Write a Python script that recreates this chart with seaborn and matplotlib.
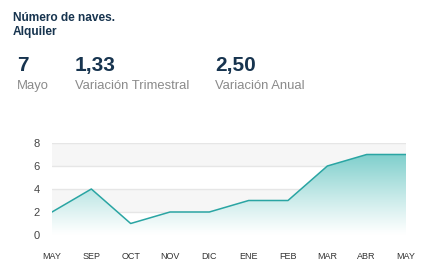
import numpy as np
import pandas as pd
import matplotlib
matplotlib.use("Agg")
import matplotlib.pyplot as plt
import seaborn as sns
from matplotlib.colors import LinearSegmentedColormap

months = ["MAY", "SEP", "OCT", "NOV", "DIC", "ENE", "FEB", "MAR", "ABR", "MAY"]
values = [2, 4, 1, 2, 2, 3, 3, 6, 7, 7]
yticks = [0, 2, 4, 6, 8]
kpi_values = ["7", "1,33", "2,50"]
kpi_labels = ["Mayo", "Variación Trimestral", "Variación Anual"]
title_lines = ["Número de naves.", "Alquiler"]

sns.set_style("white")
plt.rcParams['font.family'] = ['Liberation Sans', 'DejaVu Sans']

W, H = 430, 278
fig = plt.figure(figsize=(W / 100, H / 100), dpi=100)
ax = fig.add_axes([52 / W, 1 - 235 / H, (406 - 52) / W, (235 - 143) / H])

df = pd.DataFrame({"x": np.arange(len(values)), "y": values})

# alternating background bands
for i, (lo, hi) in enumerate(zip(yticks[:-1], yticks[1:])):
    if i % 2 == 1:
        ax.axhspan(lo, hi, color="#f6f6f6", zorder=0, lw=0)
for t in yticks:
    ax.axhline(t, color="#e6e6e6", lw=1, zorder=1)

# gradient fill
cmap = LinearSegmentedColormap.from_list("g", ["#ffffff", "#7fcfcc"])
ymax = max(values)
grad = np.linspace(0, 1, 256).reshape(-1, 1) ** 1.1
im = ax.imshow(grad, extent=[0, len(values) - 1, 0, ymax], origin="lower",
               aspect="auto", cmap=cmap, zorder=2, alpha=1)
poly = ax.fill_between(df["x"], df["y"], 0, color="none", lw=0)
im.set_clip_path(poly.get_paths()[0], transform=ax.transData)

sns.lineplot(data=df, x="x", y="y", ax=ax, color="#2aa5a3", lw=1.1, zorder=3)

ax.set_xlim(0, len(values) - 1)
ax.set_ylim(0, 8)
ax.set_xticks(df["x"])
ax.set_xticklabels(months)
ax.set_yticks(yticks)
ax.set_xlabel("")
ax.set_ylabel("")
for s in ax.spines.values():
    s.set_visible(False)
ax.tick_params(axis="x", length=5, color="#cccccc", width=1, pad=7,
               labelsize=6.5, labelcolor="#333333")
ax.tick_params(axis="y", length=0, pad=9, labelsize=8, labelcolor="#444444")
for lab in ax.get_xticklabels():
    lab.set_fontstretch("condensed")

navy = "#17344f"
fig.text(13 / W, 1 - 12 / H, title_lines[0], fontsize=8.6, fontweight="bold",
         color=navy, va="top", ha="left")
fig.text(13 / W, 1 - 26 / H, title_lines[1], fontsize=8.6, fontweight="bold",
         color=navy, va="top", ha="left")
xs = [17, 75, 215]
for x, v, l in zip(xs, kpi_values, kpi_labels):
    fig.text(x / W, 1 - 56 / H, v, fontsize=15, fontweight="bold",
             color=navy, va="top", ha="left")
    fig.text(x / W, 1 - 80 / H, l, fontsize=9.4, color="#8a8a8a",
             va="top", ha="left")

fig.savefig("out.png", dpi=100)
